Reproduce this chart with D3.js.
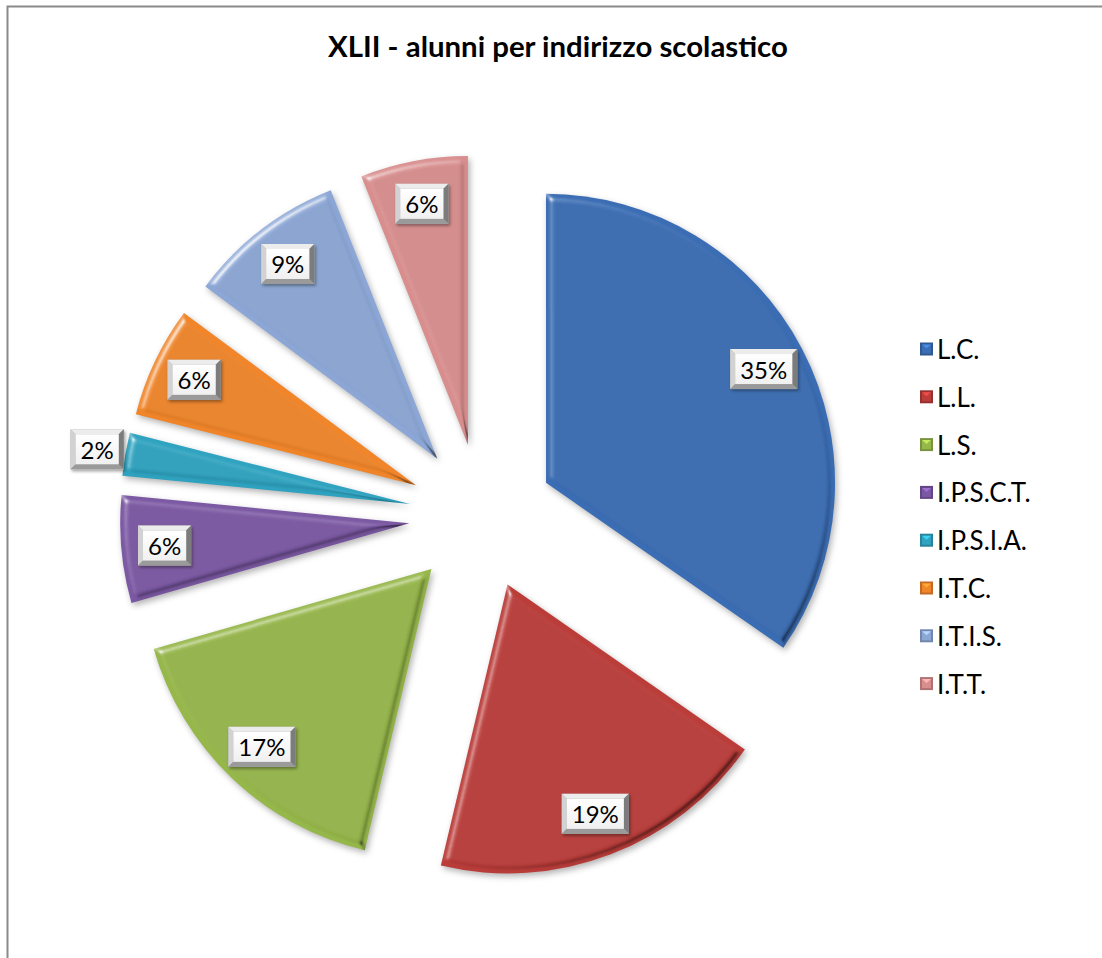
<!DOCTYPE html>
<html>
<head>
<meta charset="utf-8">
<script src="https://cdn.jsdelivr.net/npm/d3@7"></script>
<style>
  html, body { margin: 0; padding: 0; background: #ffffff; }
  svg { display: block; }
  text { font-family: Lato, "Noto Sans", sans-serif; }
</style>
</head>
<body>
<svg id="chart" width="1102" height="958"></svg>
<script>
// ---- data ----
const title = "XLII - alunni per indirizzo scolastico";
const categories = ["L.C.", "L.L.", "L.S.", "I.P.S.C.T.", "I.P.S.I.A.", "I.T.C.", "I.T.I.S.", "I.T.T."];
const values = [173, 95, 84, 30, 12, 31, 44, 30];
const colors = ["#3b6db4", "#bb3d3a", "#96b74a", "#7b58a3", "#2fa3c0", "#f0852a", "#8ca7d6", "#d98e8e"];

// ---- layout ----
const W = 1102, H = 958;
const cx = 481.6, cy = 516.5, R = 289, explode = 72.7;

const svg = d3.select("#chart");
const defs = svg.append("defs");

// bevel + shadow filter for slices
const f = defs.append("filter").attr("id", "bevel")
  .attr("x", "-20%").attr("y", "-20%").attr("width", "140%").attr("height", "140%")
  .attr("color-interpolation-filters", "sRGB");
f.append("feGaussianBlur").attr("in", "SourceAlpha").attr("stdDeviation", 3.5).attr("result", "blur");
const hi = f.append("feSpecularLighting").attr("in", "blur").attr("surfaceScale", 5)
  .attr("specularConstant", 0.8).attr("specularExponent", 25).attr("lighting-color", "#ffffff").attr("result", "hi");
hi.append("feDistantLight").attr("azimuth", 225).attr("elevation", 35);
f.append("feComposite").attr("in", "hi").attr("in2", "SourceAlpha").attr("operator", "in").attr("result", "hiIn");
const lo = f.append("feSpecularLighting").attr("in", "blur").attr("surfaceScale", 5)
  .attr("specularConstant", 0.9).attr("specularExponent", 25).attr("lighting-color", "#ffffff").attr("result", "lo");
lo.append("feDistantLight").attr("azimuth", 45).attr("elevation", 35);
f.append("feColorMatrix").attr("in", "lo").attr("type", "matrix")
  .attr("values", "0 0 0 0 0  0 0 0 0 0  0 0 0 0 0  0 0 0 0.55 0").attr("result", "loDark");
f.append("feComposite").attr("in", "loDark").attr("in2", "SourceAlpha").attr("operator", "in").attr("result", "loIn");
f.append("feGaussianBlur").attr("in", "SourceAlpha").attr("stdDeviation", 3).attr("result", "sb");
f.append("feOffset").attr("in", "sb").attr("dx", 2).attr("dy", 3).attr("result", "so");
f.append("feFlood").attr("flood-color", "#000").attr("flood-opacity", 0.3).attr("result", "sf");
f.append("feComposite").attr("in", "sf").attr("in2", "so").attr("operator", "in").attr("result", "shadow");
const m = f.append("feMerge");
["shadow", "SourceGraphic", "hiIn", "loIn"].forEach(n => m.append("feMergeNode").attr("in", n));

// label shadow
const fs = defs.append("filter").attr("id", "lblShadow")
  .attr("x", "-20%").attr("y", "-20%").attr("width", "140%").attr("height", "140%");
fs.append("feDropShadow").attr("dx", 1.5).attr("dy", 2).attr("stdDeviation", 1.5)
  .attr("flood-color", "#000").attr("flood-opacity", 0.35);

const gInner = defs.append("linearGradient").attr("id", "lblInner")
  .attr("x1", 0).attr("y1", 0).attr("x2", 0).attr("y2", 1);
gInner.append("stop").attr("offset", "0%").attr("stop-color", "#ffffff");
gInner.append("stop").attr("offset", "100%").attr("stop-color", "#f0f0f0");

// chart border
svg.append("rect")
  .attr("x", 7.5).attr("y", 6.5).attr("width", 1200).attr("height", 1000)
  .attr("fill", "none").attr("stroke", "#8a8a8a").attr("stroke-width", 2);

// title
const titleText = svg.append("text")
  .attr("x", 558).attr("y", 57)
  .attr("text-anchor", "middle")
  .attr("font-weight", "bold")
  .attr("font-size", 28)
  .attr("fill", "#000")
  .text(title);
{
  const w = titleText.node().getComputedTextLength();
  titleText.attr("font-size", 28 * 460 / w);
}

// pie
const total = d3.sum(values);
const pie = d3.pie().sort(null).value(d => d).startAngle(0).endAngle(2 * Math.PI);
const arcs = pie(values);
const arc = d3.arc().innerRadius(0).outerRadius(R);
const pct = d3.format(".0%");

const gPie = svg.append("g").attr("transform", `translate(${cx},${cy})`);

function dir(a) { return [Math.sin(a), -Math.cos(a)]; }

gPie.selectAll("path.slice")
  .data(arcs)
  .join("path")
  .attr("class", "slice")
  .attr("d", arc)
  .attr("fill", (d, i) => colors[i])
  .attr("filter", "url(#bevel)")
  .attr("transform", d => {
    const a = (d.startAngle + d.endAngle) / 2;
    const [ux, uy] = dir(a);
    return `translate(${ux * explode},${uy * explode})`;
  });

// data labels
const lblFont = 24;
const gLbl = gPie.append("g");
arcs.forEach((d, i) => {
  const a = (d.startAngle + d.endAngle) / 2;
  const [ux, uy] = dir(a);
  const txt = pct(d.value / total);
  const g = gLbl.append("g");
  const t = g.append("text")
    .attr("font-size", lblFont)
    .attr("fill", "#000")
    .attr("text-anchor", "middle")
    .attr("dominant-baseline", "central")
    .text(txt);
  const tw = t.node().getComputedTextLength();
  const bw = tw + 20, bh = 40;
  const small = (d.endAngle - d.startAngle) < 0.2;
  const dist = small ? explode + R + bw / 2 + 2 : explode + 0.85 * R;
  const lx = ux * dist, ly = uy * dist;
  g.attr("transform", `translate(${lx},${ly})`);
  const x0 = -bw / 2, y0 = -bh / 2, x1 = bw / 2, y1 = bh / 2, b = 5;
  const bg = g.insert("g", "text").attr("filter", "url(#lblShadow)");
  bg.append("rect").attr("x", x0).attr("y", y0).attr("width", bw).attr("height", bh).attr("fill", "#a8a8a8");
  bg.append("polygon").attr("points", [[x0, y0], [x1, y0], [x1 - b, y0 + b], [x0 + b, y0 + b]].join(" ")).attr("fill", "#ececec");
  bg.append("polygon").attr("points", [[x0, y0], [x0 + b, y0 + b], [x0 + b, y1 - b], [x0, y1]].join(" ")).attr("fill", "#d2d2d2");
  bg.append("polygon").attr("points", [[x1, y0], [x1, y1], [x1 - b, y1 - b], [x1 - b, y0 + b]].join(" ")).attr("fill", "#7c7c7c");
  bg.append("polygon").attr("points", [[x0, y1], [x0 + b, y1 - b], [x1 - b, y1 - b], [x1, y1]].join(" ")).attr("fill", "#9a9a9a");
  bg.append("rect").attr("x", x0 + b).attr("y", y0 + b).attr("width", bw - 2 * b).attr("height", bh - 2 * b).attr("fill", "url(#lblInner)");
});

// legend
const legX = 920, legY0 = 349, legStep = 47.8, ks = 13;
const gLeg = svg.append("g");
categories.forEach((c, i) => {
  const y = legY0 + i * legStep;
  const g = gLeg.append("g").attr("transform", `translate(${legX},${y})`);
  const col = d3.color(colors[i]);
  const x0 = 0, y0 = -ks / 2, x1 = ks, y1 = ks / 2;
  g.append("rect").attr("x", x0).attr("y", y0).attr("width", ks).attr("height", ks)
    .attr("fill", col.darker(0.6).formatHex());
  g.append("rect").attr("x", x0 + 2).attr("y", y0 + 2).attr("width", ks - 4).attr("height", ks - 4)
    .attr("fill", col.formatHex());
  g.append("polygon")
    .attr("points", [[x0 + 2, y0 + 2], [x1 - 2, y0 + 2], [ks / 2, y0 + 6]].join(" "))
    .attr("fill", col.brighter(0.7).formatHex());
  g.append("text")
    .attr("x", ks + 4).attr("y", 0)
    .attr("dominant-baseline", "central")
    .attr("font-size", 26)
    .attr("fill", "#000")
    .text(c);
});
</script>
</body>
</html>
